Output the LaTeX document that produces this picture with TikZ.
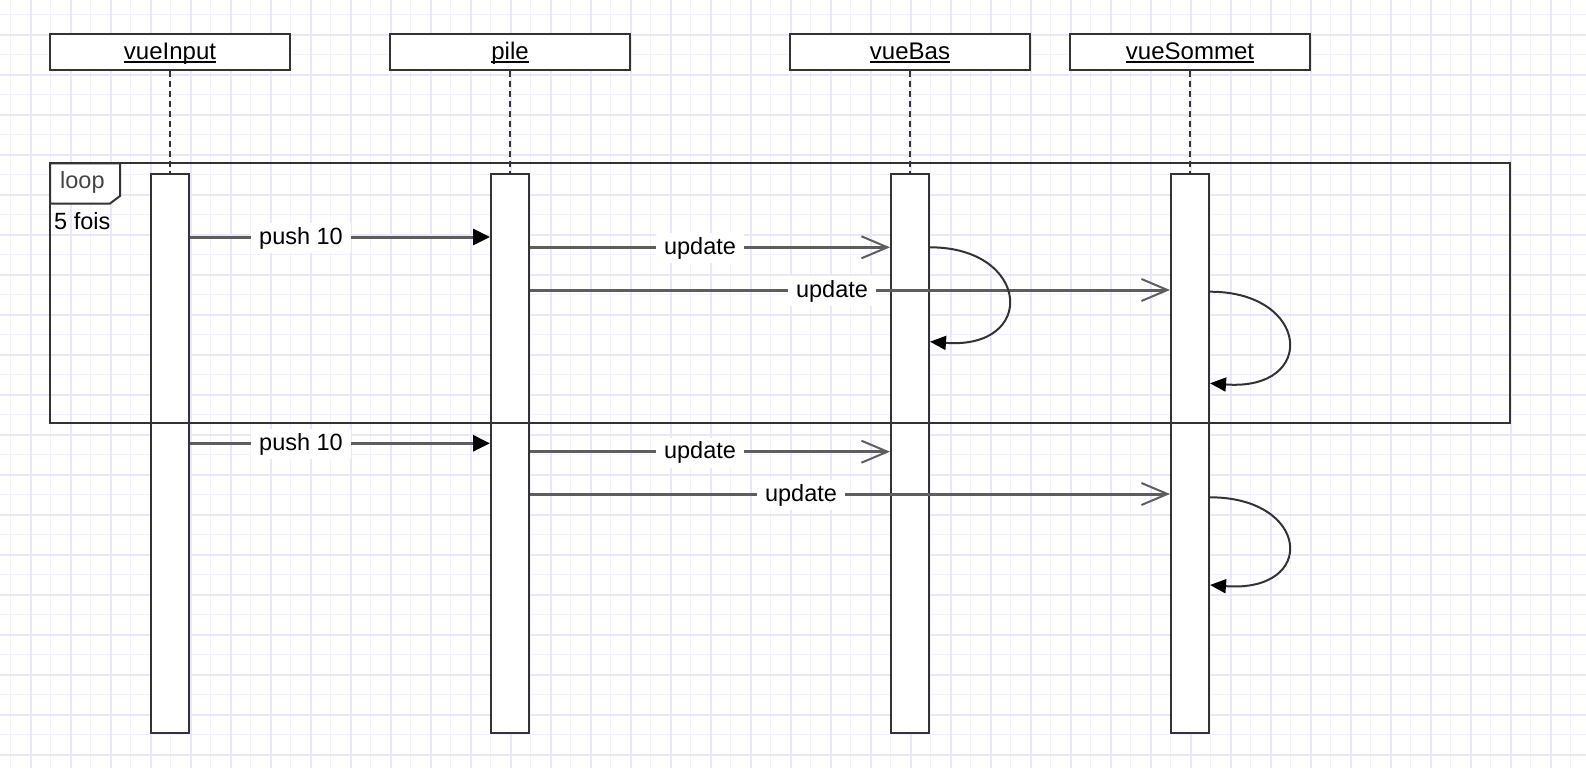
\documentclass[tikz,border=0pt]{standalone}
\usepackage{fontspec}
\setmainfont{Liberation Sans}
\usetikzlibrary{arrows.meta}
\definecolor{gridmin}{RGB}{242,242,253}
\definecolor{gridmaj}{RGB}{232,232,251}
\definecolor{ink}{HTML}{333333}
\definecolor{msgc}{HTML}{5E5E5E}
\definecolor{tabtxt}{HTML}{444444}
\begin{document}
\begin{tikzpicture}[x=1pt,y=-1pt,
  head/.style={draw=ink, line width=2pt, fill=white, minimum width=240pt, minimum height=36pt, inner sep=0pt},
  hlbl/.style={anchor=base, inner sep=0pt, font=\fontsize{24}{28}\selectfont},
  bar/.style={draw=ink, line width=2pt, fill=white, minimum width=38pt, minimum height=559pt, inner sep=0pt},
  lifeline/.style={draw=ink, line width=2pt, dash pattern=on 6pt off 4pt},
  msg/.style={draw=msgc, line width=3pt},
  sync/.style={msg, -{Triangle[length=17pt,width=16pt,color=black]}},
  async/.style={msg, -{Straight Barb[length=26pt,width=22pt,line width=2pt]}},
  selfcall/.style={draw=ink, line width=2pt, -{Triangle[length=16pt,width=14pt,color=black]}},
  lbl/.style={fill=white, inner xsep=8pt, inner ysep=4pt, anchor=base, font=\fontsize{23.5}{28}\selectfont},
  frame/.style={draw=ink, line width=2pt},
  txt/.style={inner sep=0pt, anchor=base west, font=\fontsize{23.5}{28}\selectfont}
]
\fill[white] (0,0) rectangle (1586,768);
\useasboundingbox (0,0) rectangle (1586,768);
% grid
\foreach \x in {10.5,50.5,...,1590} \draw[gridmin, line width=1pt] (\x,0) -- (\x,768);
\foreach \y in {14.5,54.5,...,770} \draw[gridmin, line width=1pt] (0,\y) -- (1586,\y);
\foreach \x in {31,71,...,1590} \draw[gridmaj, line width=2pt] (\x,0) -- (\x,768);
\foreach \y in {35,75,...,770} \draw[gridmaj, line width=2pt] (0,\y) -- (1586,\y);

% headers
\node[head] (hInput) at (170,52) {};
\node[head] (hPile) at (510,52) {};
\node[head] (hBas) at (910,52) {};
\node[head] (hSommet) at (1190,52) {};
\node[hlbl] (tInput) at (170,59.5) {vueInput};
\node[hlbl] (tPile) at (510,59.5) {pile};
\node[hlbl] (tBas) at (910,59.5) {vueBas};
\node[hlbl] (tSommet) at (1190,59.5) {vueSommet};
\foreach \t in {tInput,tPile,tBas,tSommet}
  \draw[black, line width=1.5pt] ([yshift=-2.6pt]\t.base west) -- ([yshift=-2.6pt]\t.base east);

% activation bars
\node[bar] (bInput) at (170,453.5) {};
\node[bar] (bPile) at (510,453.5) {};
\node[bar] (bBas) at (910,453.5) {};
\node[bar] (bSommet) at (1190,453.5) {};

% lifelines
\draw[lifeline] (hInput.south) -- (bInput.north);
\draw[lifeline] (hPile.south) -- (bPile.north);
\draw[lifeline] (hBas.south) -- (bBas.north);
\draw[lifeline] (hSommet.south) -- (bSommet.north);

% message rows
\coordinate (r1) at (0,237);
\coordinate (r2) at (0,247.3);
\coordinate (r3) at (0,290);
\coordinate (r4) at (0,443.3);
\coordinate (r5) at (0,451.7);
\coordinate (r6) at (0,494);

\draw[sync] (bInput.east |- r1) -- (bPile.west |- r1);
\draw[async] (bPile.east |- r2) -- (bBas.west |- r2);
\draw[async] (bPile.east |- r3) -- (bSommet.west |- r3);
\draw[sync] (bInput.east |- r4) -- (bPile.west |- r4);
\draw[async] (bPile.east |- r5) -- (bBas.west |- r5);
\draw[async] (bPile.east |- r6) -- (bSommet.west |- r6);

\node[lbl] (l1) at (301,244) {push 10};
\node[lbl] (l2) at (700,254.3) {update};
\node[lbl] (l3) at (832,297) {update};
\node[lbl] (l4) at (301,450.3) {push 10};
\node[lbl] (l5) at (700,458.7) {update};
\node[lbl] (l6) at (801,501) {update};

% self calls
\coordinate (s1a) at (0,247.3);
\coordinate (s1b) at (0,341.7);
\coordinate (s2a) at (0,291.7);
\coordinate (s2b) at (0,383.3);
\coordinate (s3a) at (0,497.3);
\coordinate (s3b) at (0,585);
\draw[selfcall] (bBas.east |- s1a) .. controls +(100,0) and +(108,8) .. (bBas.east |- s1b);
\draw[selfcall] (bSommet.east |- s2a) .. controls +(100,0) and +(108,8) .. (bSommet.east |- s2b);
\draw[selfcall] (bSommet.east |- s3a) .. controls +(100,0) and +(108,8) .. (bSommet.east |- s3b);

% loop frame
\draw[frame] (50,163.3) rectangle (1510,423.3);
\draw[frame, fill=white] (50,163.3) -- (120,163.3) -- (120,196) -- (110,203.5) -- (50,203.5) -- cycle;
\node[txt, text=tabtxt] (loopTxt) at (60,188) {loop};
\node[txt] (guardTxt) at (54,229) {5 fois};
\end{tikzpicture}
\end{document}
